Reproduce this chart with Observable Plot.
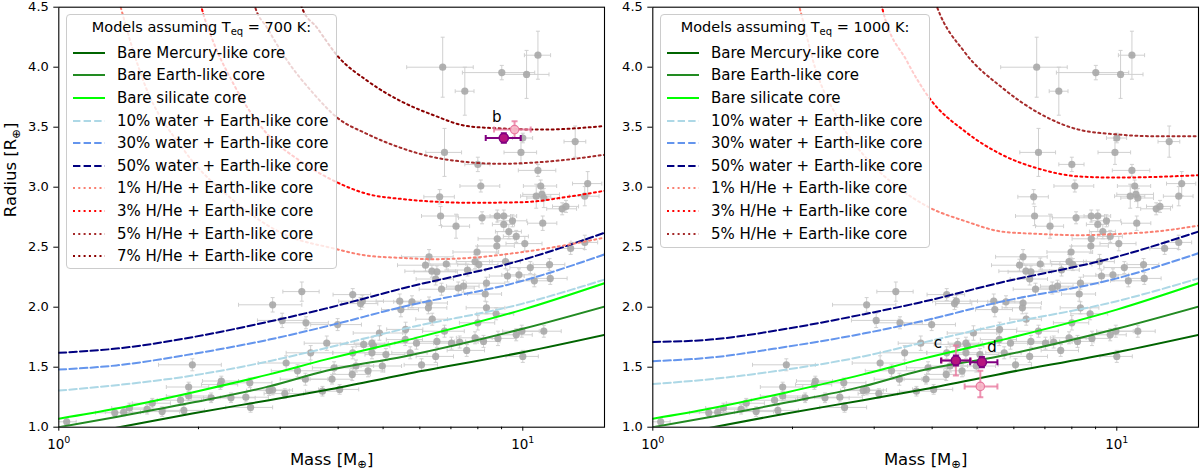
<!DOCTYPE html>
<html lang="en">
<head>
<meta charset="UTF-8" />
<title>Mass-radius diagram</title>
<style>
  body { margin: 0; background: #fff; }
  #fig { position: relative; width: 1200px; height: 475px; overflow: hidden; font-family: "DejaVu Sans", sans-serif; color: #000; }
  .panel { position: absolute; top: 0; width: 606px; height: 475px; }
  .legend { position: absolute; left: 66px; top: 14px; box-sizing: border-box; background: rgba(255,255,255,0.8); border: 1px solid #cccccc; border-radius: 4px; }
  .legend .title { position: absolute; left: 0; right: 0; top: 3px; text-align: center; font-size: 14.5px; line-height: 18px; }
  .legend .title sub { font-size: 10px; vertical-align: -3px; line-height: 0; }
  .legend .row { position: absolute; left: 5px; height: 20px; display: flex; align-items: center; font-size: 15px; white-space: nowrap; }
  .legend .row svg { margin-right: 11px; flex: none; }
</style>
</head>
<body>
<div id="fig">
  <div id="cool" class="panel" style="left:0"></div>
  <div id="hot" class="panel" style="left:594px"></div>
</div>

<script src="https://cdn.jsdelivr.net/npm/d3@7"></script>
<script src="https://cdn.jsdelivr.net/npm/@observablehq/plot@0.6"></script>
<script>
// known planets: [mass, radius, ±mass, ±radius]
const sample = [
  [6.72, 4.00, 1.1, 0.25], [7.50, 3.80, 0.35, 0.20], [9.01, 3.955, 1.6, 0.06], [10.19, 3.94, 1.2, 0.20],
  [10.78, 4.10, 0.7, 0.20], [6.78, 3.29, 0.6, 0.20], [8.00, 3.19, 0.5, 0.06], [9.91, 3.29, 0.8, 0.10],
  [10.0, 3.41, 0.5, 0.04], [12.97, 3.38, 0.7, 0.13], [8.12, 3.01, 0.8, 0.05], [10.78, 3.14, 1.0, 0.05],
  [10.93, 3.01, 0.9, 0.05], [13.8, 3.03, 1.0, 0.10], [6.62, 2.92, 0.5, 0.06], [6.65, 2.76, 0.6, 0.08],
  [7.18, 2.675, 0.5, 0.10], [8.17, 2.745, 0.9, 0.05], [8.81, 2.76, 0.6, 0.05], [9.10, 2.76, 0.6, 0.05],
  [9.10, 2.69, 0.5, 0.06], [9.50, 2.72, 0.7, 0.05], [9.33, 2.63, 0.6, 0.06], [9.68, 2.59, 0.6, 0.05],
  [8.81, 2.57, 0.8, 0.06], [8.79, 2.51, 0.8, 0.06], [10.1, 2.53, 0.9, 0.06], [10.69, 2.925, 0.8, 0.10],
  [11.1, 2.91, 0.9, 0.08], [11.0, 2.94, 1.0, 0.06], [11.04, 2.70, 0.8, 0.06], [12.16, 2.82, 0.9, 0.05],
  [12.39, 2.84, 0.8, 0.05], [13.6, 2.925, 1.0, 0.08], [12.68, 2.49, 0.9, 0.05], [13.6, 2.54, 0.9, 0.06],
  [11.42, 2.355, 0.9, 0.05], [10.38, 2.33, 1.0, 0.05], [9.81, 2.27, 0.8, 0.05], [9.27, 2.26, 0.8, 0.05],
  [9.18, 2.38, 0.7, 0.06], [10.59, 2.22, 0.9, 0.05], [11.46, 2.24, 1.0, 0.05], [7.97, 2.46, 0.9, 0.05],
  [7.89, 2.38, 0.7, 0.06], [8.04, 2.355, 0.8, 0.05], [7.60, 2.31, 0.7, 0.05], [7.45, 2.175, 0.6, 0.05],
  [7.26, 2.16, 0.6, 0.05], [8.35, 2.20, 0.8, 0.05], [8.30, 2.11, 0.7, 0.06], [8.35, 1.995, 0.8, 0.05],
  [8.76, 1.945, 0.8, 0.05], [8.00, 1.87, 0.7, 0.06], [6.28, 2.42, 0.8, 0.06], [6.17, 2.35, 0.8, 0.05],
  [6.37, 2.30, 0.8, 0.05], [6.84, 2.36, 0.7, 0.05], [6.53, 2.295, 0.7, 0.05], [6.49, 2.235, 0.6, 0.05],
  [6.68, 2.15, 0.7, 0.05], [5.77, 2.045, 0.5, 0.05], [5.43, 2.05, 0.6, 0.06], [5.46, 1.98, 0.5, 0.06],
  [6.28, 2.035, 0.6, 0.05], [6.26, 1.995, 0.6, 0.05], [6.38, 1.90, 0.5, 0.05], [5.59, 1.815, 0.5, 0.06],
  [6.78, 1.80, 0.7, 0.05], [5.90, 1.70, 0.6, 0.05], [6.53, 1.715, 0.6, 0.05], [7.02, 1.70, 0.6, 0.05],
  [7.31, 1.71, 0.7, 0.05], [7.57, 1.64, 0.7, 0.05], [7.89, 1.745, 0.7, 0.05], [8.23, 1.715, 0.7, 0.05],
  [8.84, 1.74, 0.8, 0.06], [9.68, 1.77, 0.8, 0.05], [9.95, 1.80, 0.9, 0.05], [11.1, 1.80, 1.0, 0.05],
  [10.0, 1.59, 0.8, 0.05], [6.05, 1.52, 0.5, 0.05], [6.49, 1.59, 0.6, 0.05], [5.72, 1.62, 0.5, 0.05],
  [5.07, 1.605, 0.5, 0.05], [5.58, 1.73, 0.5, 0.05], [4.91, 1.785, 0.6, 0.06], [4.73, 1.70, 0.4, 0.05],
  [4.77, 1.675, 0.4, 0.05], [4.73, 1.62, 0.4, 0.05], [4.54, 1.69, 0.5, 0.05], [4.30, 1.62, 0.4, 0.05],
  [4.29, 1.44, 0.4, 0.05], [4.37, 1.51, 0.4, 0.05], [4.64, 1.47, 0.4, 0.05], [4.98, 1.51, 0.5, 0.05],
  [3.88, 1.40, 0.4, 0.04], [3.92, 1.495, 0.4, 0.05], [3.70, 1.30, 0.3, 0.04], [4.03, 1.315, 0.4, 0.04],
  [3.78, 1.70, 0.4, 0.06], [3.49, 1.62, 0.4, 0.06], [3.27, 1.47, 0.4, 0.05], [3.40, 1.40, 0.4, 0.05],
  [3.09, 1.535, 0.4, 0.06], [3.07, 1.28, 0.3, 0.04], [2.89, 1.31, 0.3, 0.04], [2.84, 1.305, 0.3, 0.04],
  [2.58, 1.37, 0.3, 0.04], [2.53, 1.25, 0.3, 0.04], [2.59, 1.165, 0.3, 0.04], [2.35, 1.245, 0.3, 0.04],
  [2.24, 1.385, 0.2, 0.04], [2.23, 1.355, 0.2, 0.04], [2.13, 1.245, 0.2, 0.04], [1.905, 1.335, 0.2, 0.04],
  [1.905, 1.26, 0.2, 0.04], [1.83, 1.225, 0.2, 0.04], [1.86, 1.14, 0.2, 0.04], [1.94, 1.52, 0.3, 0.05],
  [1.67, 1.13, 0.15, 0.04], [1.59, 1.20, 0.15, 0.04], [1.55, 1.15, 0.15, 0.04], [1.42, 1.16, 0.12, 0.04],
  [1.38, 1.125, 0.12, 0.03], [1.32, 1.12, 0.12, 0.03], [1.04, 1.045, 0.05, 0.03], [2.89, 2.02, 0.45, 0.06],
  [3.03, 1.89, 0.35, 0.06], [3.34, 2.13, 0.3, 0.08], [3.41, 1.87, 0.4, 0.05], [3.99, 1.855, 0.5, 0.05],
  [4.30, 2.105, 0.4, 0.05], [4.47, 2.03, 0.4, 0.05], [4.51, 2.05, 0.5, 0.05]
];

// model curves: [mass, radius]
const mercuryCore = [[1, 0.90], [1.33, 0.995], [1.94, 1.115], [2.84, 1.225], [3.77, 1.31], [5.55, 1.44], [10, 1.625], [15, 1.77]];
const earthCore = [[1, 1.00], [1.33, 1.085], [1.94, 1.205], [2.84, 1.34], [3.77, 1.47], [5.55, 1.59], [10, 1.82], [15, 2.005]];
const silicateCore = [[1, 1.07], [1.33, 1.155], [1.94, 1.29], [2.84, 1.44], [3.77, 1.565], [5.55, 1.72], [10, 1.98], [15, 2.20]];

const water10_700 = [[1, 1.305], [1.33, 1.35], [1.94, 1.43], [2.84, 1.55], [3.77, 1.66], [5.55, 1.82], [10, 2.03], [15, 2.23]];
const water30_700 = [[1, 1.48], [1.33, 1.515], [1.94, 1.61], [2.84, 1.73], [3.77, 1.84], [5.55, 2.006], [10, 2.22], [15, 2.44]];
const water50_700 = [[1, 1.62], [1.33, 1.655], [1.94, 1.75], [2.84, 1.88], [3.77, 1.99], [5.55, 2.16], [10, 2.395], [15, 2.62]];
const hhe1_700 = [[1.30, 4.80], [1.36, 4.50], [1.52, 3.89], [1.86, 3.31], [2.38, 2.89], [3.05, 2.61], [3.91, 2.49], [4.61, 2.43], [5.55, 2.41], [6.42, 2.40], [7.6, 2.41], [10, 2.46], [12.5, 2.52], [15, 2.58]];
const hhe3_700 = [[1.98, 4.70], [2.03, 4.50], [2.12, 4.28], [2.38, 3.86], [2.81, 3.445], [3.31, 3.22], [3.98, 3.04], [4.61, 2.945], [5.55, 2.90], [6.42, 2.88], [7.73, 2.87], [10, 2.875], [12.5, 2.92], [15, 2.97]];
const hhe5_700 = [[2.60, 4.62], [2.65, 4.50], [2.81, 4.33], [3.10, 4.06], [3.54, 3.78], [3.98, 3.58], [4.61, 3.445], [5.44, 3.33], [6.42, 3.25], [7.57, 3.21], [8.93, 3.195], [11, 3.21], [15, 3.27]];
const hhe7_700 = [[3.30, 4.56], [3.34, 4.50], [3.60, 4.33], [4.01, 4.083], [4.61, 3.89], [5.44, 3.72], [6.42, 3.60], [7.57, 3.51], [8.93, 3.49], [11, 3.48], [15, 3.51]];

const water10_1000 = [[1, 1.36], [1.33, 1.40], [1.94, 1.48], [2.84, 1.59], [3.77, 1.70], [5.55, 1.85], [10, 2.05], [15, 2.24]];
const water30_1000 = [[1, 1.55], [1.33, 1.58], [1.94, 1.67], [2.84, 1.78], [3.77, 1.88], [5.55, 2.04], [10, 2.24], [15, 2.45]];
const water50_1000 = [[1, 1.71], [1.33, 1.73], [1.94, 1.82], [2.84, 1.94], [3.77, 2.04], [5.55, 2.20], [10, 2.42], [15, 2.63]];
const hhe1_1000 = [[2.00, 4.70], [2.07, 4.50], [2.24, 3.99], [2.50, 3.58], [2.92, 3.22], [3.40, 2.99], [3.95, 2.83], [4.69, 2.72], [5.66, 2.63], [6.85, 2.61], [8.27, 2.60], [10, 2.61], [12.1, 2.63], [15, 2.68]];
const hhe3_1000 = [[3.05, 4.70], [3.12, 4.50], [3.53, 4.05], [3.95, 3.74], [4.69, 3.47], [5.66, 3.27], [6.85, 3.15], [8.27, 3.09], [10, 3.08], [15, 3.10]];
const hhe5_1000 = [[4.00, 4.62], [4.10, 4.50], [4.69, 4.13], [5.66, 3.83], [6.85, 3.61], [8.27, 3.48], [10, 3.44], [12.1, 3.425], [15, 3.425]];

// planets of this system: [name, mass, mass low, mass high, radius, radius low, radius high]
const thisWork700 = [["b", 9.10, 8.32, 9.90, 3.41, 3.37, 3.45]];
const previous700 = [["b", 9.60, 8.67, 10.40, 3.48, 3.41, 3.55]];
const thisWork1000 = [["c", 4.50, 4.18, 4.83, 1.556, 1.515, 1.597], ["d", 5.12, 4.83, 5.53, 1.542, 1.50, 1.585]];
const previous1000 = [["c", 4.50, 4.20, 4.85, 1.556, 1.43, 1.68], ["d", 5.08, 4.70, 5.53, 1.34, 1.25, 1.47]];

const labels = [
  "Bare Mercury-like core", "Bare Earth-like core", "Bare silicate core",
  "10% water + Earth-like core", "30% water + Earth-like core", "50% water + Earth-like core",
  "1% H/He + Earth-like core", "3% H/He + Earth-like core", "5% H/He + Earth-like core", "7% H/He + Earth-like core"
];

const dashed = "7.4,3.2";
const dotted = "2,3.3";
const lineStyle = {
  "Bare Mercury-like core": {stroke: "#006400"},
  "Bare Earth-like core": {stroke: "#228b22"},
  "Bare silicate core": {stroke: "#00ff00"},
  "10% water + Earth-like core": {stroke: "#add8e6", dash: dashed},
  "30% water + Earth-like core": {stroke: "#6495ed", dash: dashed},
  "50% water + Earth-like core": {stroke: "#000080", dash: dashed},
  "1% H/He + Earth-like core": {stroke: "#fa8072", dash: dotted},
  "3% H/He + Earth-like core": {stroke: "#ff0000", dash: dotted},
  "5% H/He + Earth-like core": {stroke: "#a52a2a", dash: dotted},
  "7% H/He + Earth-like core": {stroke: "#8b0000", dash: dotted}
};

const panels = [
  {
    id: "cool", teq: 700, legendWidth: 271, legendHeight: 255, yLabel: true,
    curves: [mercuryCore, earthCore, silicateCore, water10_700, water30_700, water50_700, hhe1_700, hhe3_700, hhe5_700, hhe7_700],
    thisWork: thisWork700, previous: previous700,
    nameOffset: {b: [-7, -21]}
  },
  {
    id: "hot", teq: 1000, legendWidth: 270, legendHeight: 234, yLabel: false,
    curves: [mercuryCore, earthCore, silicateCore, water10_1000, water30_1000, water50_1000, hhe1_1000, hhe3_1000, hhe5_1000],
    thisWork: thisWork1000, previous: previous1000,
    nameOffset: {c: [-18, -17], d: [10, -15]}
  }
];

// vertical and horizontal cap symbols for error bars
const vCap = {draw(ctx, size) { const h = Math.sqrt(size / Math.PI); ctx.moveTo(0, -h); ctx.lineTo(0, h); }};
const hCap = {draw(ctx, size) { const h = Math.sqrt(size / Math.PI); ctx.moveTo(-h, 0); ctx.lineTo(h, 0); }};

function errorBars(rows, x, xlo, xhi, y, ylo, yhi, stroke, width, cap, opacity = 1) {
  const o = {stroke, strokeWidth: width, strokeOpacity: opacity, clip: true};
  return [
    Plot.link(rows, {x1: xlo, x2: xhi, y1: y, y2: y, ...o}),
    Plot.link(rows, {x1: x, x2: x, y1: ylo, y2: yhi, ...o}),
    Plot.dot(rows, {x: xlo, y, symbol: vCap, r: cap, fill: "none", ...o}),
    Plot.dot(rows, {x: xhi, y, symbol: vCap, r: cap, fill: "none", ...o}),
    Plot.dot(rows, {x, y: ylo, symbol: hCap, r: cap, fill: "none", ...o}),
    Plot.dot(rows, {x, y: yhi, symbol: hCap, r: cap, fill: "none", ...o})
  ];
}

const SVGNS = "http://www.w3.org/2000/svg";
function tspan(text, attrs) {
  const t = document.createElementNS(SVGNS, "tspan");
  for (const k in attrs) t.setAttribute(k, attrs[k]);
  t.textContent = text;
  return t;
}

// mathtext-like pieces: ⊕ as subscript, decade exponents as superscript
function mathText(svg) {
  for (const t of svg.querySelectorAll("text")) {
    const s = t.textContent;
    if (s.includes("⊕")) {
      const [a, b] = s.split("⊕");
      t.textContent = a;
      t.append(tspan("⊕", {"font-size": "11.5px", dy: "3.5"}), tspan(b, {dy: "-3.5"}));
    } else if (/^10[⁰¹]$/.test(s)) {
      t.textContent = "10";
      t.append(tspan(s.endsWith("⁰") ? "0" : "1", {"font-size": "9.5px", dy: "-5.5"}));
    }
  }
}

function drawPanel(p) {
  const curveMarks = p.curves.map((pts, i) => {
    const st = lineStyle[labels[i]];
    return Plot.line(pts, {
      x: d => d[0], y: d => d[1], stroke: st.stroke, strokeWidth: 2,
      strokeDasharray: st.dash, curve: "monotone-x", clip: true
    });
  });

  const chart = Plot.plot({
    width: 606, height: 475,
    marginLeft: 58.3, marginRight: 2, marginTop: 6.7, marginBottom: 48.3,
    style: {fontFamily: '"DejaVu Sans", sans-serif', fontSize: "13px", color: "#000", background: "transparent", overflow: "visible"},
    x: {type: "log", domain: [1, 15]},
    y: {domain: [1, 4.5]},
    marks: [
      ...errorBars(sample, d => d[0], d => d[0] - d[2], d => d[0] + d[2], d => d[1], d => d[1] - d[3], d => d[1] + d[3], "#d0d0d0", 1, 2),
      Plot.dot(sample, {x: d => d[0], y: d => d[1], r: 3.6, fill: "#a9a9a9", fillOpacity: 0.9, clip: true}),
      ...curveMarks,
      ...errorBars(p.previous, d => d[1], d => d[2], d => d[3], d => d[4], d => d[5], d => d[6], "#e8799f", 2, 3, 0.8),
      Plot.dot(p.previous, {x: d => d[1], y: d => d[4], r: 4.2, fill: "#f6b8c9", stroke: "#e8799f", strokeWidth: 1.2, fillOpacity: 0.9}),
      ...errorBars(p.thisWork, d => d[1], d => d[2], d => d[3], d => d[4], d => d[5], d => d[6], "#800080", 2, 3),
      Plot.dot(p.thisWork, {x: d => d[1], y: d => d[4], r: 4.6, fill: "#b7157f", stroke: "#800080", strokeWidth: 1.5}),
      ...p.thisWork.map(d => Plot.text([d], {
        x: d => d[1], y: d => d[4], text: d => d[0],
        dx: p.nameOffset[d[0]][0], dy: p.nameOffset[d[0]][1], fontSize: 15
      })),
      Plot.frame({stroke: "#000", strokeWidth: 1.1}),
      Plot.axisY({ticks: d3.range(1, 4.51, 0.5), tickFormat: d3.format(".1f"), tickSize: 5, tickPadding: 5, label: null}),
      Plot.axisX({ticks: [1, 10], tickFormat: d => (d === 1 ? "10⁰" : "10¹"), tickSize: 4, tickPadding: 8, fontSize: 13.5, label: null}),
      Plot.axisX({ticks: [2, 3, 4, 5, 6, 7, 8, 9], tickFormat: () => "", tickSize: 2.5, label: null}),
      p.yLabel ? Plot.text(["Radius [R⊕]"], {frameAnchor: "left", dx: -48, rotate: -90, fontSize: 16.5}) : null,
      Plot.text(["Mass [M⊕]"], {frameAnchor: "bottom", dy: 37.5, fontSize: 16.5})
    ]
  });
  mathText(chart);

  const host = document.getElementById(p.id);
  host.append(chart);

  // legend box sits over the curves, like a semi-opaque matplotlib legend
  const legend = document.createElement("div");
  legend.className = "legend";
  legend.style.width = p.legendWidth + "px";
  legend.style.height = p.legendHeight + "px";
  legend.innerHTML = `<div class="title">Models assuming T<sub>eq</sub> = ${p.teq} K:</div>`;
  p.curves.forEach((_, i) => {
    const st = lineStyle[labels[i]];
    const row = document.createElement("div");
    row.className = "row";
    row.style.top = (37.7 + i * 22.6 - 10) + "px";
    row.innerHTML = `<svg width="34" height="10"><line x1="1" x2="33" y1="5" y2="5" stroke="${st.stroke}" stroke-width="2" ${st.dash ? `stroke-dasharray="${st.dash}"` : ""}/></svg><span>${labels[i]}</span>`;
    legend.append(row);
  });
  host.append(legend);
}

panels.forEach(drawPanel);
</script>
</body>
</html>
